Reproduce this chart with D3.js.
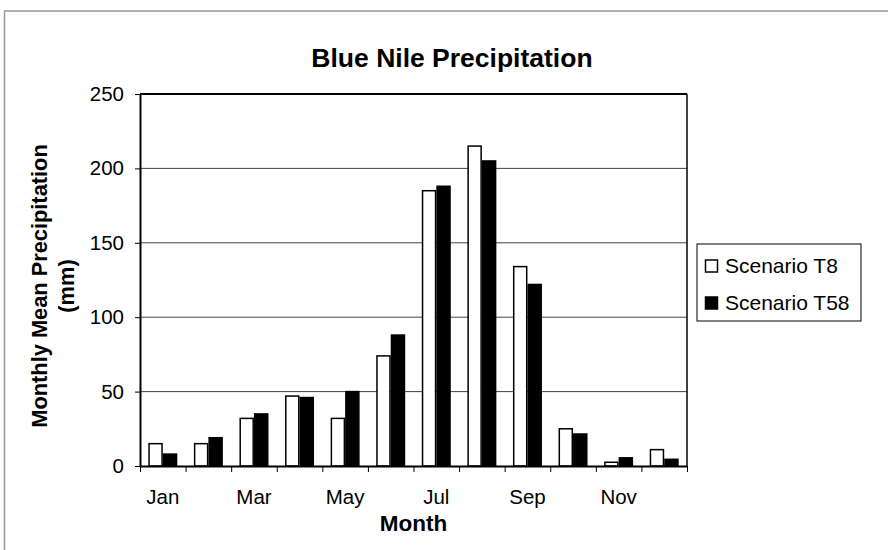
<!DOCTYPE html>
<html>
<head>
<meta charset="utf-8">
<script src="https://cdn.jsdelivr.net/npm/d3@7"></script>
<style>
  html, body { margin: 0; padding: 0; background: #fff; }
  svg { display: block; font-family: "Liberation Sans", Arial, Helvetica, sans-serif; }
</style>
</head>
<body>
<svg id="chart" width="888" height="550"></svg>
<script>
const months = ["Jan","Feb","Mar","Apr","May","Jun","Jul","Aug","Sep","Oct","Nov","Dec"];
const labeledMonths = ["Jan","Mar","May","Jul","Sep","Nov"];
const seriesNames = ["Scenario T8","Scenario T58"];
const scenarioT8  = [15, 15, 32, 47, 32, 74, 185, 215, 134, 25, 2.5, 11];
const scenarioT58 = [8, 19, 35, 46, 50, 88, 188, 205, 122, 21.5, 5.5, 4.5];
const yTicks = [0, 50, 100, 150, 200, 250];
const seriesFill = ["#ffffff", "#000000"];

const svg = d3.select("#chart");
const W = 888, H = 550;
const plot = { left: 140, right: 687, top: 94, bottom: 466 };

svg.append("rect").attr("width", W).attr("height", H).attr("fill", "#fff");

// outer frame (top and left edges visible)
svg.append("line").attr("x1", 4).attr("x2", 888).attr("y1", 11).attr("y2", 11)
  .attr("stroke", "#999").attr("stroke-width", 1.5);
svg.append("line").attr("x1", 4.5).attr("x2", 4.5).attr("y1", 11).attr("y2", 550)
  .attr("stroke", "#999").attr("stroke-width", 1.5);

const x0 = d3.scaleBand().domain(months).range([plot.left, plot.right])
  .paddingInner(0.364).paddingOuter(0.182);
const x1 = d3.scaleBand().domain(seriesNames).range([0, x0.bandwidth()]).padding(0);
const xEdge = d3.scaleLinear().domain([0, months.length]).range([plot.left, plot.right]);
const y = d3.scaleLinear().domain([0, 250]).range([plot.bottom, plot.top]);

// gridlines
svg.append("g").selectAll("line").data(yTicks.filter(v => v > 0 && v < 250)).join("line")
  .attr("x1", plot.left).attr("x2", plot.right)
  .attr("y1", d => y(d)).attr("y2", d => y(d))
  .attr("stroke", "#444").attr("stroke-width", 1);

// bars
const data = months.map((m, i) => ({ m, vals: [scenarioT8[i], scenarioT58[i]] }));
const groups = svg.append("g").selectAll("g").data(data).join("g")
  .attr("transform", d => `translate(${x0(d.m)},0)`);
groups.selectAll("rect").data(d => d.vals.map((v, j) => ({ v, s: seriesNames[j], j }))).join("rect")
  .attr("x", d => x1(d.s) + 0.75)
  .attr("width", x1.bandwidth() - 1.5)
  .attr("y", d => y(d.v))
  .attr("height", d => y(0) - y(d.v))
  .attr("fill", d => seriesFill[d.j])
  .attr("stroke", "#000").attr("stroke-width", 1.5);

// plot frame top & right
svg.append("line").attr("x1", plot.left).attr("x2", plot.right).attr("y1", plot.top).attr("y2", plot.top)
  .attr("stroke", "#000").attr("stroke-width", 2);
svg.append("line").attr("x1", plot.right).attr("x2", plot.right).attr("y1", plot.top).attr("y2", plot.bottom)
  .attr("stroke", "#000").attr("stroke-width", 1.5);

// y axis
const yAxis = svg.append("g").attr("transform", `translate(${plot.left},0)`)
  .call(d3.axisLeft(y).tickValues(yTicks).tickSize(5).tickPadding(11).tickSizeOuter(0));
yAxis.select(".domain").attr("stroke-width", 2);
yAxis.selectAll("text").attr("font-size", 20.5).attr("fill", "#000");
yAxis.selectAll("line").attr("stroke-width", 1);

// x axis: boundary ticks
const xTickAxis = svg.append("g").attr("transform", `translate(0,${plot.bottom})`)
  .call(d3.axisBottom(xEdge).tickValues(d3.range(0, months.length + 1)).tickSize(6).tickSizeOuter(0).tickFormat(""));
xTickAxis.select(".domain").attr("stroke-width", 2);

// x axis: labels
const xLabAxis = svg.append("g").attr("transform", `translate(0,${plot.bottom})`)
  .call(d3.axisBottom(x0).tickValues(labeledMonths).tickSize(0).tickPadding(23));
xLabAxis.select(".domain").remove();
xLabAxis.selectAll("text").attr("font-size", 20.5).attr("fill", "#000");

// titles
svg.append("text").attr("x", 452).attr("y", 67).attr("text-anchor", "middle")
  .attr("font-size", 26.5).attr("font-weight", "bold").text("Blue Nile Precipitation");
svg.append("text").attr("x", (plot.left + plot.right) / 2).attr("y", 531).attr("text-anchor", "middle")
  .attr("font-size", 22.5).attr("font-weight", "bold").text("Month");
const yt = svg.append("text").attr("transform", "translate(46.5,286) rotate(-90)")
  .attr("text-anchor", "middle").attr("font-size", 21.8).attr("font-weight", "bold");
yt.append("tspan").attr("x", 0).attr("y", 0).text("Monthly Mean Precipitation");
yt.append("tspan").attr("x", 0).attr("y", 27).text("(mm)");

// legend
const lg = svg.append("g");
lg.append("rect").attr("x", 697).attr("y", 244).attr("width", 164).attr("height", 77)
  .attr("fill", "#fff").attr("stroke", "#000").attr("stroke-width", 1);
const rowsY = [266, 303];
seriesNames.forEach((s, i) => {
  lg.append("rect").attr("x", 705.5).attr("y", rowsY[i] - 6).attr("width", 12).attr("height", 12)
    .attr("fill", seriesFill[i]).attr("stroke", "#000").attr("stroke-width", 1.5);
  lg.append("text").attr("x", 725).attr("y", rowsY[i]).attr("dy", "0.35em")
    .attr("font-size", 21).text(s);
});
</script>
</body>
</html>
